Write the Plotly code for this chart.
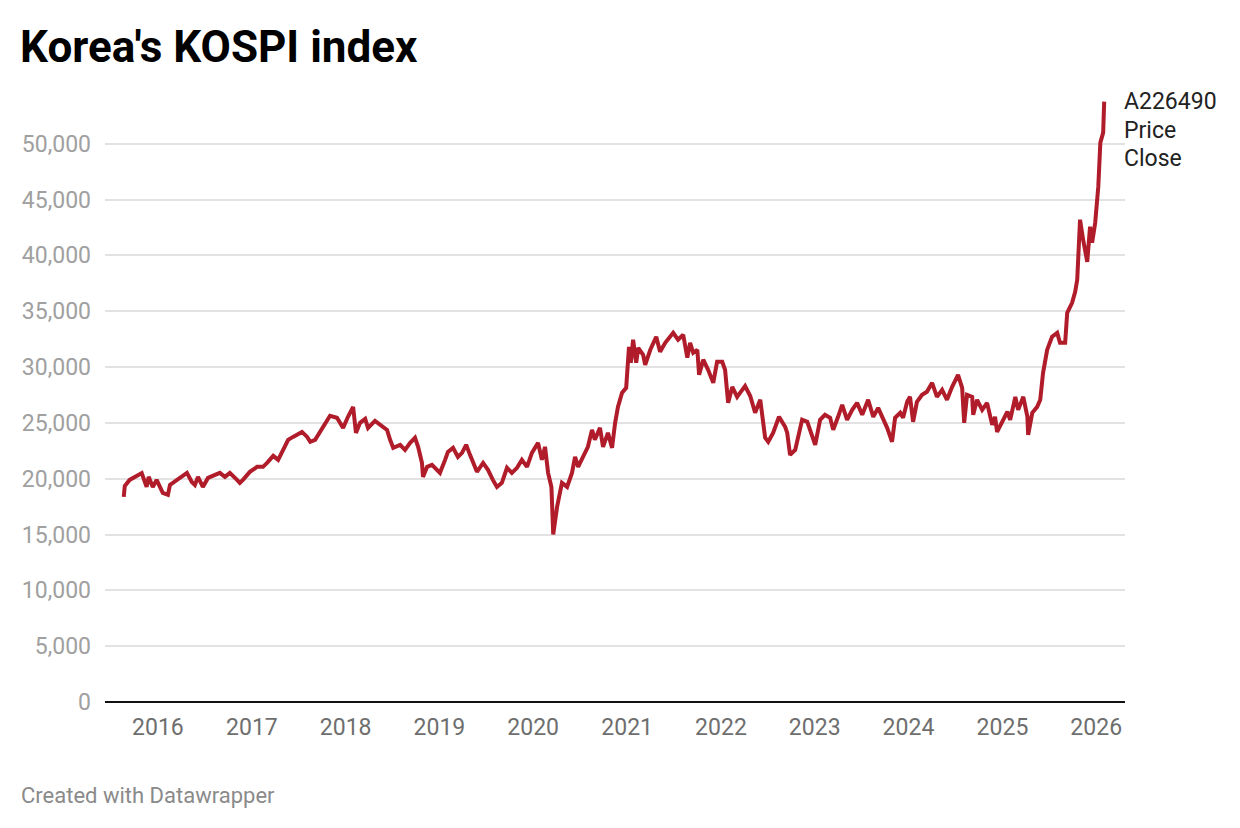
import plotly.graph_objects as go

# Dates and closing prices
dates = [
    "2015-08-21", "2015-08-25", "2015-09-13", "2015-10-30", "2015-11-18", "2015-11-26",
    "2015-12-12", "2015-12-27",
    "2016-01-20", "2016-02-09", "2016-02-17", "2016-03-15", "2016-04-03", "2016-04-23",
    "2016-05-12", "2016-05-24", "2016-06-05", "2016-06-24", "2016-07-14", "2016-08-10",
    "2016-08-29", "2016-09-18", "2016-10-07", "2016-11-04", "2016-11-15", "2016-11-27",
    "2016-12-24",
    "2017-01-21", "2017-02-13", "2017-03-01", "2017-03-25", "2017-04-13", "2017-05-02",
    "2017-05-22", "2017-06-10", "2017-07-15", "2017-08-04", "2017-08-16", "2017-09-04",
    "2017-09-23", "2017-10-13", "2017-11-01", "2017-11-28", "2017-12-22",
    "2018-01-10", "2018-01-30", "2018-02-10", "2018-02-26", "2018-03-18", "2018-03-29",
    "2018-04-25", "2018-05-23", "2018-06-11", "2018-06-23", "2018-07-05", "2018-08-01",
    "2018-08-20", "2018-09-09", "2018-09-28", "2018-10-10", "2018-10-25", "2018-10-29",
    "2018-11-14", "2018-12-03", "2018-12-15",
    "2019-01-03", "2019-01-23", "2019-02-03", "2019-02-23", "2019-03-14", "2019-03-30",
    "2019-04-15", "2019-04-30", "2019-05-27", "2019-06-20", "2019-07-09", "2019-07-28",
    "2019-08-13", "2019-09-01", "2019-09-21", "2019-10-10", "2019-10-30", "2019-11-18",
    "2019-12-08", "2019-12-27",
    "2020-01-20", "2020-02-04", "2020-02-16", "2020-02-28", "2020-03-12", "2020-03-19",
    "2020-04-03", "2020-04-22", "2020-05-12", "2020-05-31", "2020-06-12", "2020-06-24",
    "2020-07-13", "2020-08-01", "2020-08-17", "2020-08-28", "2020-09-17", "2020-09-29",
    "2020-10-18", "2020-11-03", "2020-11-15", "2020-11-26", "2020-12-12", "2020-12-28",
    "2021-01-08", "2021-01-15", "2021-01-24", "2021-02-05", "2021-02-13", "2021-03-04",
    "2021-03-12", "2021-04-01", "2021-04-24", "2021-05-09", "2021-05-29", "2021-06-29",
    "2021-07-18", "2021-08-07", "2021-08-23", "2021-09-03", "2021-09-15", "2021-10-01",
    "2021-10-08", "2021-10-24", "2021-11-12", "2021-12-02", "2021-12-17",
    "2022-01-06", "2022-01-17", "2022-01-29", "2022-02-14", "2022-03-05", "2022-03-17",
    "2022-04-05", "2022-04-25", "2022-05-14", "2022-06-03", "2022-06-22", "2022-07-04",
    "2022-07-23", "2022-08-15", "2022-09-08", "2022-09-16", "2022-09-27", "2022-10-17",
    "2022-11-13", "2022-12-03", "2022-12-15",
    "2023-01-03", "2023-01-22", "2023-02-10", "2023-03-02", "2023-03-14", "2023-04-02",
    "2023-04-18", "2023-05-07", "2023-05-27", "2023-06-15", "2023-07-05", "2023-07-28",
    "2023-08-17", "2023-09-05", "2023-09-25", "2023-10-10", "2023-10-29", "2023-11-10",
    "2023-11-30", "2023-12-11", "2023-12-27",
    "2024-01-07", "2024-01-19", "2024-02-03", "2024-02-23", "2024-03-13", "2024-04-02",
    "2024-04-21", "2024-05-11", "2024-05-30", "2024-06-19", "2024-07-12", "2024-07-28",
    "2024-08-05", "2024-08-16", "2024-09-05", "2024-09-09", "2024-09-24", "2024-10-14",
    "2024-11-02", "2024-11-22", "2024-12-03", "2024-12-11",
    "2025-01-01", "2025-01-20", "2025-01-31", "2025-02-20", "2025-03-03", "2025-03-23",
    "2025-04-08", "2025-04-11", "2025-04-27", "2025-05-16", "2025-05-28", "2025-06-08",
    "2025-06-24", "2025-07-13", "2025-08-02", "2025-08-13", "2025-09-02", "2025-09-10",
    "2025-09-29", "2025-10-11", "2025-10-19", "2025-10-30", "2025-11-11", "2025-11-27",
    "2025-12-08", "2025-12-16", "2025-12-28",
    "2026-01-09", "2026-01-17", "2026-01-28", "2026-02-01",
]

close = [
    18370, 19350, 19890, 20500, 19260, 20160,
    19260, 19890,
    18730, 18550, 19440, 19890, 20160, 20520,
    19710, 19440, 20160, 19260, 20070, 20340,
    20520, 20160, 20520, 19890, 19620, 19890,
    20610,
    21060, 21060, 21410, 22040, 21680, 22580,
    23480, 23740, 24190, 23740, 23300, 23480,
    24190, 25000, 25630, 25450, 24550,
    25540, 26430, 24100, 25000, 25360, 24550,
    25180, 24640, 24370, 23480, 22760, 23030,
    22580, 23210, 23660, 22850, 21410, 20160,
    21060, 21240, 20970,
    20520, 21680, 22400, 22760, 21950, 22310,
    23030, 22130, 20610, 21410, 20790, 19890,
    19260, 19620, 20970, 20520, 20970, 21680,
    21060, 22310,
    23210, 21680, 22850, 20520, 19260, 15000,
    17470, 19620, 19260, 20520, 21950, 21060,
    21950, 22850, 24370, 23480, 24550, 22850,
    24100, 22760, 25000, 26430, 27690, 28130,
    31810, 30380, 32440, 30380, 31720, 31090,
    30200, 31540, 32710, 31360, 32170, 33060,
    32440, 32890, 30830, 32170, 31270, 31540,
    29300, 30650, 29750, 28580, 30470,
    30470, 29750, 26790, 28220, 27330, 27700,
    28300, 27400, 25900, 27060, 23660, 23300,
    24100, 25540, 24640, 24100, 22130, 22580,
    25270, 25090, 24370,
    23030, 25270, 25720, 25450, 24370, 25540,
    26610, 25270, 26160, 26790, 25720, 27060,
    25540, 26340, 25270, 24550, 23300, 25450,
    25900, 25450, 26880,
    27330, 25090, 26880, 27510, 27780, 28580,
    27330, 27960, 27060, 28220, 29300, 28130,
    25000, 27510, 27330, 25720, 27060, 26160,
    26790, 24820, 25540, 24190,
    25090, 25990, 25270, 27330, 26160, 27330,
    25540, 23920, 25900, 26430, 27060, 29480,
    31540, 32710, 33060, 32170, 32170, 34850,
    35750, 36740, 37810, 43190, 41400, 39420,
    42560, 41130, 42920,
    46150, 50090, 50990, 53760,
]

label_lines = ["A226490", "Price", "Close"]
y_ticks = [0, 5000, 10000, 15000, 20000, 25000, 30000, 35000, 40000, 45000, 50000]
x_tick_start = "2016-01-01"

W, H = 1240, 828
L, R, T, B = 105, 115, 99, 126
plot_h = H - T - B


def py(pix):
    """pixel row -> paper y"""
    return (H - B - pix) / plot_h


fig = go.Figure()
fig.add_trace(go.Scatter(
    x=dates, y=close, mode="lines",
    line=dict(color="#b01c2a", width=4),
    hoverinfo="skip", showlegend=False,
))

annotations = []
for i, t in enumerate(label_lines):
    annotations.append(dict(
        text=t, xref="paper", yref="paper",
        x=1, y=py(102 + 28 * i), xanchor="left", yanchor="middle",
        xshift=-3, align="left", showarrow=False,
        font=dict(family="Roboto", size=23, color="#222222"),
    ))
annotations.append(dict(
    text="Created with Datawrapper", xref="paper", yref="paper",
    x=0, y=py(795), xanchor="left", yanchor="middle",
    xshift=-L + 19, showarrow=False,
    font=dict(family="Roboto", size=22, color="#8a8a8a"),
))

fig.update_layout(
    width=W, height=H,
    margin=dict(l=L, r=R, t=T, b=B),
    paper_bgcolor="white", plot_bgcolor="white",
    font=dict(family="Roboto", color="#333333"),
    title=dict(
        text="<b>Korea's KOSPI index</b>",
        x=0, xref="paper", xanchor="left",
        y=1 - 47 / H, yref="container", yanchor="middle",
        pad=dict(l=-L + 20),
        font=dict(family="Roboto", size=44, color="#000000"),
    ),
    xaxis=dict(
        type="date",
        range=["2015-06-09", "2026-04-23"],
        tick0=x_tick_start, dtick="M12", tickformat="%Y",
        showgrid=False, zeroline=False,
        showline=False, ticks="",
        ticklabelstandoff=9,
        tickfont=dict(family="Roboto", size=23, color="#6e6e6e"),
    ),
    yaxis=dict(
        range=[0, 54000],
        tickvals=y_ticks, tickformat=",",
        showgrid=True, gridcolor="#e2e2e2", gridwidth=1.5,
        zeroline=True, zerolinecolor="#111111", zerolinewidth=2,
        showline=False, ticks="",
        ticklabelstandoff=13,
        tickfont=dict(family="Roboto", size=23, color="#a0a0a0"),
    ),
    annotations=annotations,
)

fig.write_html(
    "out.html",
    config={"displayModeBar": False},
    post_script="document.body.style.margin='0px';",
)
